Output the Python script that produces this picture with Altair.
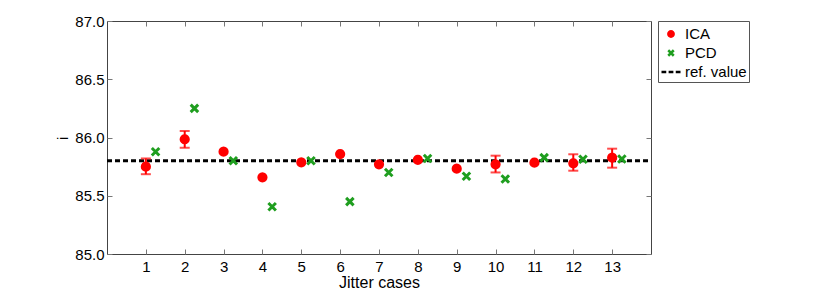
import altair as alt
import pandas as pd

# ---- data ----
cases = [1, 2, 3, 4, 5, 6, 7, 8, 9, 10, 11, 12, 13]
ica = [85.75, 85.985, 85.878, 85.658, 85.787, 85.858, 85.77, 85.807, 85.732, 85.77, 85.784, 85.778, 85.827]
ica_lo = [85.685, 85.912, 85.878, 85.658, 85.787, 85.858, 85.77, 85.807, 85.732, 85.70, 85.784, 85.715, 85.741]
ica_hi = [85.82, 86.056, 85.878, 85.658, 85.787, 85.858, 85.77, 85.807, 85.732, 85.844, 85.784, 85.856, 85.904]
pcd = [85.878, 86.25, 85.80, 85.406, 85.80, 85.45, 85.70, 85.82, 85.667, 85.644, 85.827, 85.813, 85.815]
pcd_shift = 0.25
ref_value = 85.8
x_domain = [0, 14]
y_domain = [85.0, 87.0]
y_ticks = [85.0, 85.5, 86.0, 86.5, 87.0]
series_names = ["ICA", "PCD", "ref. value"]
series_colors = ["#ff0000", "#1f9e1f", "#000000"]

FONT = "Liberation Sans"

circle_path = "M-0.28,0A0.28,0.28 0 1,0 0.28,0A0.28,0.28 0 1,0 -0.28,0Z"
x_path = "M-0.29,-0.29L0.29,0.29M0.29,-0.29L-0.29,0.29"
dash_path = "M-1,0L-0.5,0M-0.25,0L0.25,0M0.5,0L1,0"

pts = pd.DataFrame(
    {
        "xpos": cases + [c + pcd_shift for c in cases],
        "value": ica + pcd,
        "series": ["ICA"] * len(cases) + ["PCD"] * len(cases),
    }
)
err = pd.DataFrame({"xpos": cases, "lo": ica_lo, "hi": ica_hi})
err = err[err["hi"] - err["lo"] > 0]
ref = pd.DataFrame({"x0": [x_domain[0]], "x1": [x_domain[1]], "y": [ref_value]})

xscale = alt.Scale(domain=x_domain, nice=False, zero=False)
yscale = alt.Scale(domain=y_domain, nice=False, zero=False)

legend = alt.Legend(
    title=None,
    orient="none",
    legendX=551,
    legendY=0,
    padding=2,
    rowPadding=0,
    labelOffset=3,
    symbolSize=361,
    symbolStrokeWidth=2.5,
    strokeColor="#555555",
    fillColor="white",
    labelFont=FONT,
    labelFontSize=15,
    labelColor="#000000",
)

common_axis = dict(
    offset=-5,
    tickSize=5,
    domain=False,
    grid=False,
    tickColor="#777777",
    labelFont=FONT,
    labelFontSize=15,
    labelColor="#000000",
)

x_bottom = alt.Axis(
    orient="bottom",
    values=cases,
    labelPadding=5,
    title="Jitter cases",
    titleFont=FONT,
    titleFontSize=16,
    titleFontWeight="normal",
    titleColor="#000000",
    titleBaseline="alphabetic",
    titleY=38,
    **common_axis,
)
y_left = alt.Axis(
    orient="left",
    values=y_ticks,
    format=".1f",
    labelPadding=3,
    title="i",
    titleFont=FONT,
    titleFontSize=14,
    titleFontWeight="normal",
    titleColor="#000000",
    titleBaseline="alphabetic",
    titleX=-45,
    titleY=117,
    **common_axis,
)
x_top = alt.Axis(orient="top", values=cases, labels=False, title=None, **common_axis)
y_right = alt.Axis(orient="right", values=y_ticks, labels=False, title=None, **common_axis)

ref_layer = alt.Chart(ref).mark_rule(color="#000000", strokeWidth=3, strokeDash=[5, 3]).encode(
    x=alt.X("x0:Q", scale=xscale, axis=x_top),
    x2="x1:Q",
    y=alt.Y("y:Q", scale=yscale, axis=y_right),
)

bar_layer = alt.Chart(err).mark_rule(color="#ff0000", strokeWidth=2).encode(
    x=alt.X("xpos:Q", scale=xscale, axis=None),
    y=alt.Y("lo:Q", scale=yscale, axis=None),
    y2="hi:Q",
)
cap_lo = alt.Chart(err).mark_tick(color="#ff0000", orient="horizontal", size=10, thickness=2).encode(
    x=alt.X("xpos:Q", scale=xscale, axis=None),
    y=alt.Y("lo:Q", scale=yscale, axis=None),
)
cap_hi = alt.Chart(err).mark_tick(color="#ff0000", orient="horizontal", size=10, thickness=2).encode(
    x=alt.X("xpos:Q", scale=xscale, axis=None),
    y=alt.Y("hi:Q", scale=yscale, axis=None),
)

col_scale = alt.Scale(domain=series_names, range=series_colors)
shape_scale = alt.Scale(domain=series_names, range=[circle_path, x_path, dash_path])

pt_layer = alt.Chart(pts).mark_point(filled=True, size=666, strokeWidth=3, opacity=1).encode(
    x=alt.X("xpos:Q", scale=xscale, axis=x_bottom),
    y=alt.Y("value:Q", scale=yscale, axis=y_left),
    fill=alt.Fill("series:N", scale=col_scale, legend=legend),
    stroke=alt.Stroke("series:N", scale=col_scale, legend=legend),
    shape=alt.Shape("series:N", scale=shape_scale, legend=legend),
)

chart = (
    alt.layer(ref_layer, bar_layer, cap_lo, cap_hi, pt_layer)
    .resolve_axis(x="independent", y="independent")
    .properties(
        width=544,
        height=233,
        autosize=alt.AutoSizeParams(type="none"),
        padding={"left": 99, "top": 13, "right": 120, "bottom": 35},
        background="white",
    )
    .configure_view(stroke="#444444", strokeWidth=1)
)

chart.save("out.html", embed_options={"renderer": "svg", "actions": False})
